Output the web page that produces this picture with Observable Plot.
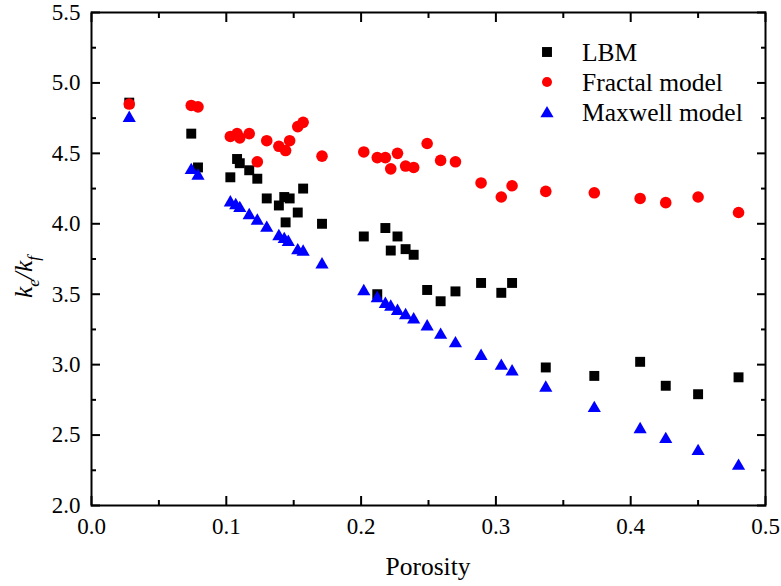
<!DOCTYPE html>
<html><head><meta charset="utf-8">
<script src="https://cdn.jsdelivr.net/npm/d3@7"></script>
<script src="https://cdn.jsdelivr.net/npm/@observablehq/plot@0.6"></script>
<style>body{margin:0;background:#fff} svg text{font-family:"Liberation Serif",serif}</style>
</head><body><div id="chart"></div>
<script>
// ---- data ----
const lbmPorosity = [0.028,0.074,0.079,0.103,0.108,0.110,0.117,0.123,0.130,0.139,0.143,0.144,0.147,0.153,0.157,0.171,0.202,0.212,0.218,0.222,0.227,0.233,0.239,0.249,0.259,0.270,0.289,0.304,0.312,0.337,0.373,0.407,0.426,0.450,0.480];
const lbmValues   = [4.86,4.64,4.40,4.33,4.46,4.43,4.38,4.32,4.18,4.13,4.19,4.01,4.18,4.08,4.25,4.00,3.91,3.50,3.97,3.81,3.91,3.82,3.78,3.53,3.45,3.52,3.58,3.51,3.58,2.98,2.92,3.02,2.85,2.79,2.91];

const fractalPorosity = [0.028,0.074,0.079,0.103,0.108,0.110,0.117,0.123,0.130,0.139,0.144,0.147,0.153,0.157,0.171,0.202,0.212,0.218,0.222,0.227,0.233,0.239,0.249,0.259,0.270,0.289,0.304,0.312,0.337,0.373,0.407,0.426,0.450,0.480];
const fractalValues   = [4.85,4.84,4.83,4.62,4.64,4.61,4.64,4.44,4.59,4.55,4.52,4.59,4.69,4.72,4.48,4.51,4.47,4.47,4.39,4.50,4.41,4.40,4.57,4.45,4.44,4.29,4.19,4.27,4.23,4.22,4.18,4.15,4.19,4.08];

const maxwellPorosity = [0.028,0.074,0.079,0.103,0.107,0.110,0.117,0.123,0.130,0.139,0.143,0.146,0.153,0.157,0.171,0.202,0.212,0.218,0.222,0.227,0.233,0.239,0.249,0.259,0.270,0.289,0.304,0.312,0.337,0.373,0.407,0.426,0.450,0.480];
const maxwellValues   = [4.75,4.38,4.34,4.15,4.13,4.11,4.06,4.02,3.97,3.91,3.89,3.87,3.81,3.80,3.71,3.52,3.47,3.43,3.41,3.38,3.35,3.32,3.27,3.21,3.15,3.06,2.99,2.95,2.835,2.69,2.54,2.47,2.385,2.28];

const seriesNames = ["LBM", "Fractal model", "Maxwell model"];
const xMajorTicks = [0, 0.1, 0.2, 0.3, 0.4, 0.5];
const xMinorTicks = [0.05, 0.15, 0.25, 0.35, 0.45];
const yMajorTicks = [2.0, 2.5, 3.0, 3.5, 4.0, 4.5, 5.0, 5.5];
const yMinorTicks = [2.25, 2.75, 3.25, 3.75, 4.25, 4.75, 5.25];
const xTitle = "Porosity";

// ---- styling ----
const FONT = "Liberation Serif";
const rows = (xs, ys) => xs.map((x, i) => ({x, y: ys[i]}));
const colors = ["#000000", "#ff0000", "#0000ff"];
const symbols = ["square", "circle", "triangle"];
const radii = [5.6, 5.8, 4.9];

const tickAxes = (side, k, ticks, size) =>
  (k === "x" ? Plot.axisX : Plot.axisY)({anchor: side, ticks, tickSize: size, tickFormat: () => "", label: null, strokeWidth: 2, stroke: "#000"});

const plot = Plot.plot({
  width: 781, height: 586,
  marginLeft: 91, marginRight: 16, marginTop: 12, marginBottom: 81,
  style: {fontFamily: FONT, fontSize: "23px", background: "#fff", color: "#000"},
  x: {domain: [0, 0.5]},
  y: {domain: [2, 5.5]},
  marks: [
    Plot.dot(rows(lbmPorosity, lbmValues), {x: "x", y: "y", symbol: symbols[0], r: radii[0], fill: colors[0], stroke: null}),
    Plot.dot(rows(fractalPorosity, fractalValues), {x: "x", y: "y", symbol: symbols[1], r: radii[1], fill: colors[1], stroke: null}),
    Plot.dot(rows(maxwellPorosity, maxwellValues), {x: "x", y: "y", symbol: symbols[2], r: radii[2], fill: colors[2], stroke: null}),
    // tick labels
    Plot.axisX({anchor: "bottom", ticks: xMajorTicks, tickSize: 0, tickPadding: 12, tickFormat: d3.format(".1f"), label: null, fontSize: 23, fontFamily: FONT, fontVariant: "normal", fill: "#000"}),
    Plot.axisY({anchor: "left", ticks: yMajorTicks, tickSize: 0, tickPadding: 11, tickFormat: d3.format(".1f"), label: null, fontSize: 23, fontFamily: FONT, fontVariant: "normal", fill: "#000"}),
    // inward ticks on all four sides
    tickAxes("bottom", "x", xMajorTicks, -9), tickAxes("bottom", "x", xMinorTicks, -5),
    tickAxes("top", "x", xMajorTicks, -9), tickAxes("top", "x", xMinorTicks, -5),
    tickAxes("left", "y", yMajorTicks, -9), tickAxes("left", "y", yMinorTicks, -5),
    tickAxes("right", "y", yMajorTicks, -9), tickAxes("right", "y", yMinorTicks, -5),
    Plot.frame({stroke: "#000", strokeWidth: 2})
  ]
});

document.getElementById("chart").appendChild(plot);

// ---- titles and legend ----
const svg = d3.select(plot);
const xr = plot.scale("x").range;
const cx = (xr[0] + xr[1]) / 2;

svg.append("text")
  .attr("x", cx).attr("y", 575)
  .attr("text-anchor", "middle")
  .style("font-family", FONT).style("font-size", "25.5px").attr("fill", "#000")
  .text(xTitle);

const yt = svg.append("text")
  .attr("transform", `translate(32,277) rotate(-90)`)
  .attr("text-anchor", "middle")
  .style("font-family", FONT).style("font-size", "25.5px").style("font-style", "italic").attr("fill", "#000");
yt.append("tspan").text("k");
yt.append("tspan").style("font-size", "17px").attr("dy", 7).text("e");
yt.append("tspan").attr("dy", -7).text("/k");
yt.append("tspan").style("font-size", "17px").attr("dy", 7).text("f");

const legendX = 547, legendY0 = 52, legendStep = 30;
seriesNames.forEach((name, i) => {
  const y = legendY0 + i * legendStep + (i === 2 ? 1.5 : 0);
  const sym = i === 0 ? d3.symbolSquare : i === 1 ? d3.symbolCircle : d3.symbolTriangle;
  svg.append("path")
    .attr("transform", `translate(${legendX},${y})`)
    .attr("d", d3.symbol(sym, Math.PI * radii[i] * radii[i] * (i === 1 ? 0.75 : 1))())
    .attr("fill", colors[i]);
  svg.append("text")
    .attr("x", 582).attr("y", legendY0 + i * legendStep + 8.5)
    .attr("text-anchor", "start")
    .style("font-family", FONT).style("font-size", "25.5px").attr("fill", "#000")
    .text(name);
});
</script>
</body></html>
